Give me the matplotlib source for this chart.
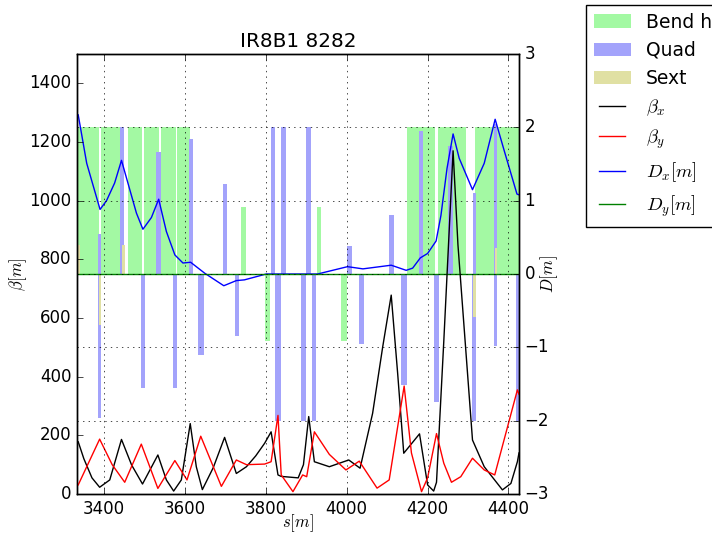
import matplotlib
matplotlib.use("Agg")
from matplotlib import pyplot as plt
import numpy as np

# element layout (s start / centre in m, length, bar height on the D axis)
bend_s = [3330, 3392.6, 3459.3, 3499, 3540, 3581, 3738, 3798, 3926, 3986, 4148, 4225, 4318]
bend_l = [58.4, 57.4, 34.7, 37, 37, 31, 12, 12, 11, 15, 71, 70, 110]
bend_h = [2, 2, 2, 2, 2, 2, 0.92, -0.92, 0.92, -0.92, 2, 2, 2]

quad_s = [3388, 3388, 3444, 3496, 3535, 3575, 3615, 3640, 3699, 3728, 3818, 3831, 3843,
          3894, 3906, 3918, 4007, 4037, 4110, 4142, 4183, 4222, 4257, 4315, 4315, 4368, 4368, 4423]
quad_w = [8, 8, 8.5, 10, 12, 9.5, 12, 13.5, 12, 10, 8.5, 15, 12,
          12.5, 13, 10, 12, 12, 12.5, 13.5, 9.5, 10, 12, 7, 10, 8.5, 8.5, 8]
quad_h = [0.54, -1.97, 2.0, -1.55, 1.66, -1.55, 1.84, -1.10, 1.23, -0.84, 2.0, -2.0, 2.0,
          -2.0, 2.0, -2.0, 0.38, -0.96, 0.80, -1.52, 1.95, -1.75, 1.75, 1.1, -2.0, 2.05, -0.98, -2.0]

sext_s = [3337, 3390, 3448, 4315.5, 4369]
sext_w = [8, 6, 7, 6, 5]
sext_h = [0.4, -0.7, 0.4, -0.58, 0.35]

# optics
bx_s = [3336, 3350, 3370, 3389, 3414, 3443, 3468, 3495, 3533, 3554, 3572, 3591, 3613, 3628,
        3643, 3670, 3698, 3727, 3752, 3775, 3797, 3813, 3830, 3838, 3880, 3893, 3906, 3920,
        3957, 4005, 4033, 4064, 4089, 4110, 4126, 4141, 4180, 4200, 4215, 4222, 4240, 4263,
        4275, 4311, 4340, 4385, 4406, 4422, 4426]
bx = [178, 120, 55, 23, 48, 186, 99, 34, 133, 48, 10, 48, 240, 93,
      15, 90, 193, 70, 93, 130, 173, 212, 65, 60, 55, 100, 264, 110,
      93, 116, 88, 275, 502, 678, 410, 139, 205, 31, 10, 40, 520, 1170,
      850, 184, 93, 14, 36, 110, 140]

by_s = [3336, 3389, 3420, 3451, 3492, 3533, 3575, 3605, 3639, 3690, 3727, 3752, 3797, 3813,
        3830, 3838, 3867, 3891, 3901, 3920, 3957, 3998, 4031, 4075, 4105, 4142, 4160, 4185,
        4200, 4222, 4240, 4259, 4282, 4311, 4340, 4366, 4422, 4426]
by = [31, 187, 100, 40, 170, 19, 114, 48, 197, 26, 116, 100, 102, 110,
      268, 65, 8, 65, 59, 212, 135, 82, 112, 20, 48, 368, 140, 8,
      55, 206, 105, 40, 59, 122, 82, 65, 355, 340]

dx_s = [3336, 3357, 3390, 3406, 3426, 3443, 3480, 3496, 3517, 3535, 3554, 3575, 3595, 3614,
        3649, 3696, 3727, 3747, 3801, 3928, 4002, 4040, 4110, 4147, 4163, 4182, 4200, 4221,
        4233, 4248, 4263, 4278, 4311, 4340, 4367, 4389, 4421, 4426]
dx = [2.17, 1.51, 0.88, 1.0, 1.24, 1.55, 0.83, 0.61, 0.77, 1.02, 0.58, 0.26, 0.15, 0.16,
      0.01, -0.16, -0.09, -0.08, 0.0, 0.0, 0.10, 0.07, 0.12, 0.05, 0.08, 0.22, 0.28, 0.45,
      0.80, 1.44, 1.91, 1.58, 1.15, 1.51, 2.11, 1.69, 1.09, 1.08]

dy_s = [3333, 4426]
dy = [0.0, 0.0]


def main():
    plt.style.use('classic')
    plt.rcParams['figure.facecolor'] = 'white'
    plt.rcParams['savefig.facecolor'] = 'white'

    fig = plt.figure(figsize=(7.12, 5.35), dpi=100)
    ax = fig.add_axes([77/712., 1-494/535., 442/712., 440/535.])
    ax2 = ax.twinx()

    # elements + dispersion on the right axis, kept below the beta axis
    hb = ax2.bar(bend_s, bend_h, width=bend_l, align='edge', color='#a3f9a3', linewidth=0)
    hq = ax2.bar(quad_s, quad_h, width=quad_w, color='#a3a3fb', linewidth=0)
    hs = ax2.bar(sext_s, sext_h, width=sext_w, color='#e0e0a3', linewidth=0)
    ldx, = ax2.plot(dx_s, dx, 'b-')
    ldy, = ax2.plot(dy_s, dy, 'g-')
    ax2.set_ylim(-3, 3)
    ax2.set_ylabel(r'$D[m]$', labelpad=-8)
    ax2.yaxis.grid(True)

    lbx, = ax.plot(bx_s, bx, 'k-')
    lby, = ax.plot(by_s, by, 'r-')
    ax.set_zorder(ax2.get_zorder() + 1)
    ax.patch.set_visible(False)
    ax.xaxis.grid(True)
    ax.set_xlim(3333, 4426)
    ax.set_ylim(0, 1500)
    ax.set_yticks(np.arange(0, 1401, 200))
    ax.set_xticks(np.arange(3400, 4401, 200))
    ax.set_xlabel(r'$s[m]$', labelpad=-4)
    ax.set_ylabel(r'$\beta[m]$', labelpad=0)
    ax.set_title('IR8B1 8282')

    fig.legend([hb, hq, hs, lbx, lby, ldx, ldy],
               ['Bend h', 'Quad', 'Sext', r'$\beta_x$', r'$\beta_y$', r'$D_x[m]$', r'$D_y[m]$'],
               loc='upper left', bbox_to_anchor=(586/712., 1-5/535.), borderaxespad=0,
               fontsize=13.5, numpoints=2)

    fig.savefig('out.png', dpi=100)


main()
